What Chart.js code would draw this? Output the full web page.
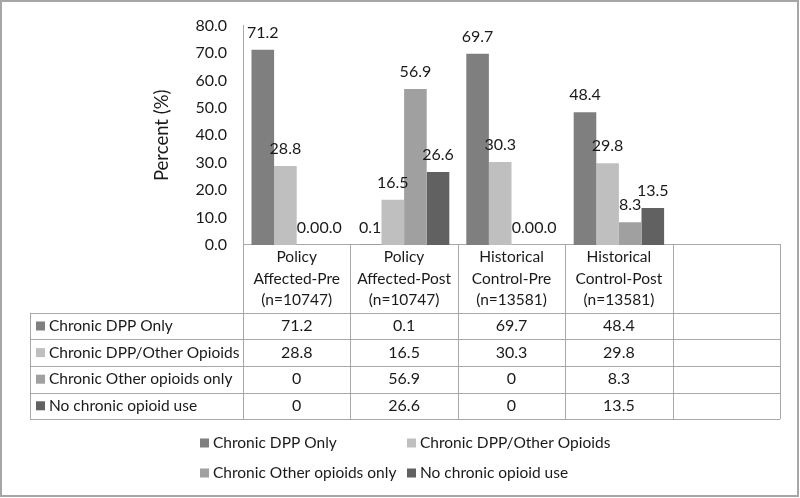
<!DOCTYPE html>
<html>
<head>
<meta charset="utf-8">
<script src="https://cdn.jsdelivr.net/npm/chart.js@4.4.1/dist/chart.umd.min.js"></script>
<style>
  html, body { margin: 0; padding: 0; background: #fff; }
  #wrap { width: 800px; height: 498px; position: relative; }
</style>
</head>
<body>
<div id="wrap"><canvas id="c" width="800" height="498"></canvas></div>
<script>
// ---- Data ----
const categoryLines = [
  ['Policy', 'Affected-Pre', '(n=10747)'],
  ['Policy', 'Affected-Post', '(n=10747)'],
  ['Historical', 'Control-Pre', '(n=13581)'],
  ['Historical', 'Control-Post', '(n=13581)'],
  []
];
const seriesNames = ['Chronic DPP Only', 'Chronic DPP/Other Opioids', 'Chronic Other opioids only', 'No chronic opioid use'];
const dppOnly    = [71.2, 0.1, 69.7, 48.4, null];
const dppOther   = [28.8, 16.5, 30.3, 29.8, null];
const otherOnly  = [0, 56.9, 0, 8.3, null];
const noChronic  = [0, 26.6, 0, 13.5, null];
const seriesColors = ['#7f7f7f', '#bfbfbf', '#a0a0a0', '#616161'];
const yTicks = [0, 10, 20, 30, 40, 50, 60, 70, 80];

const FONT = 'Lato';
const FS = 15.5;
const NUMFS = 16;
const TXT = '#1a1a1a';
const LINE = '#a8a8a8';

const seriesData = [dppOnly, dppOther, otherOnly, noChronic];

const bgPlugin = {
  id: 'bg',
  beforeDraw(chart) {
    const ctx = chart.ctx;
    ctx.save();
    ctx.fillStyle = '#fff';
    ctx.fillRect(0, 0, chart.width, chart.height);
    ctx.restore();
  }
};

const labelPlugin = {
  id: 'valLabels',
  afterDatasetsDraw(chart) {
    const ctx = chart.ctx;
    ctx.save();
    ctx.font = NUMFS + 'px ' + FONT;
    ctx.fillStyle = TXT;
    ctx.textAlign = 'center';
    ctx.textBaseline = 'middle';
    chart.data.datasets.forEach((ds, di) => {
      const meta = chart.getDatasetMeta(di);
      meta.data.forEach((el, i) => {
        const v = ds.data[i];
        if (v === null || v === undefined) return;
        ctx.fillText(v.toFixed(1), el.x, el.y - 17);
      });
    });
    ctx.restore();
  }
};

const tablePlugin = {
  id: 'dataTable',
  afterDraw(chart) {
    const ctx = chart.ctx;
    const xs = chart.scales.x;
    const area = chart.chartArea;
    const n = chart.data.labels.length;
    const cw = (area.right - area.left) / n;
    const bounds = [];
    for (let i = 0; i <= n; i++) bounds.push(area.left + i * cw);
    const axisY = area.bottom;
    const headBottom = 312.7;
    const rowH = 26.6;
    const tableLeft = 30;
    const tableBottom = headBottom + rowH * seriesNames.length;

    ctx.save();
    ctx.strokeStyle = LINE;
    ctx.lineWidth = 1;
    bounds.forEach(x => {
      ctx.beginPath();
      ctx.moveTo(Math.round(x) + 0.5, axisY);
      ctx.lineTo(Math.round(x) + 0.5, tableBottom);
      ctx.stroke();
    });
    ctx.beginPath();
    ctx.moveTo(tableLeft + 0.5, headBottom);
    ctx.lineTo(tableLeft + 0.5, tableBottom);
    ctx.stroke();
    for (let r = 0; r <= seriesNames.length; r++) {
      const y = Math.round(headBottom + r * rowH) + 0.5;
      ctx.beginPath();
      ctx.moveTo(tableLeft, y);
      ctx.lineTo(bounds[n], y);
      ctx.stroke();
    }

    ctx.font = FS + 'px ' + FONT;
    ctx.fillStyle = TXT;
    ctx.textBaseline = 'middle';
    ctx.textAlign = 'center';
    categoryLines.forEach((lines, i) => {
      const cx = xs.getPixelForValue(i);
      lines.forEach((t, k) => ctx.fillText(t, cx, 257 + k * 21.5));
    });
    seriesNames.forEach((name, r) => {
      const cy = headBottom + r * rowH + rowH / 2;
      ctx.fillStyle = seriesColors[r];
      ctx.fillRect(36, cy - 4.5, 9, 9);
      ctx.fillStyle = TXT;
      ctx.textAlign = 'left';
      ctx.font = FS + 'px ' + FONT;
      ctx.fillText(name, 49, cy);
      ctx.textAlign = 'center';
      ctx.font = NUMFS + 'px ' + FONT;
      seriesData[r].forEach((v, i) => {
        if (v === null) return;
        ctx.fillText(String(v), xs.getPixelForValue(i), cy);
      });
    });

    ctx.font = FS + 'px ' + FONT;
    const legendPos = [[200, 443], [407, 443], [200, 473], [407, 473]];
    seriesNames.forEach((name, r) => {
      const [lx, ly] = legendPos[r];
      ctx.fillStyle = seriesColors[r];
      ctx.fillRect(lx, ly - 4.5, 9, 9);
      ctx.fillStyle = TXT;
      ctx.textAlign = 'left';
      ctx.fillText(name, lx + 13, ly);
    });

    ctx.strokeStyle = '#a6a6a6';
    ctx.lineWidth = 2;
    ctx.strokeRect(1, 1, 797, 495);
    ctx.restore();
  }
};

new Chart(document.getElementById('c'), {
  type: 'bar',
  data: {
    labels: categoryLines.map(l => l.join(' ')),
    datasets: seriesNames.map((name, i) => ({
      label: name,
      data: seriesData[i],
      backgroundColor: seriesColors[i],
      borderWidth: 0,
      categoryPercentage: 0.842,
      barPercentage: 1.0
    }))
  },
  options: {
    responsive: false,
    animation: false,
    devicePixelRatio: 1,
    layout: { padding: { left: 0, right: 20, top: 20, bottom: 253 } },
    plugins: { legend: { display: false }, tooltip: { enabled: false } },
    scales: {
      x: {
        display: true,
        grid: { display: false, drawTicks: false },
        border: { display: true, color: LINE, width: 1 },
        ticks: { display: false },
        afterFit(scale) { scale.height = 0; }
      },
      y: {
        min: 0, max: 80,
        afterBuildTicks(scale) { scale.ticks = yTicks.map(v => ({ value: v })); },
        grid: { display: false, drawTicks: false },
        border: { display: true, color: LINE, width: 1 },
        ticks: {
          padding: 16,
          color: TXT,
          font: { family: FONT, size: NUMFS },
          callback: v => Number(v).toFixed(1)
        },
        title: {
          display: true,
          text: 'Percent (%)',
          color: TXT,
          font: { family: FONT, size: 18.5 },
          padding: { top: 151, bottom: 0 }
        },
        afterFit(scale) { scale.width = 243; }
      }
    }
  },
  plugins: [bgPlugin, labelPlugin, tablePlugin]
});
</script>
</body>
</html>
